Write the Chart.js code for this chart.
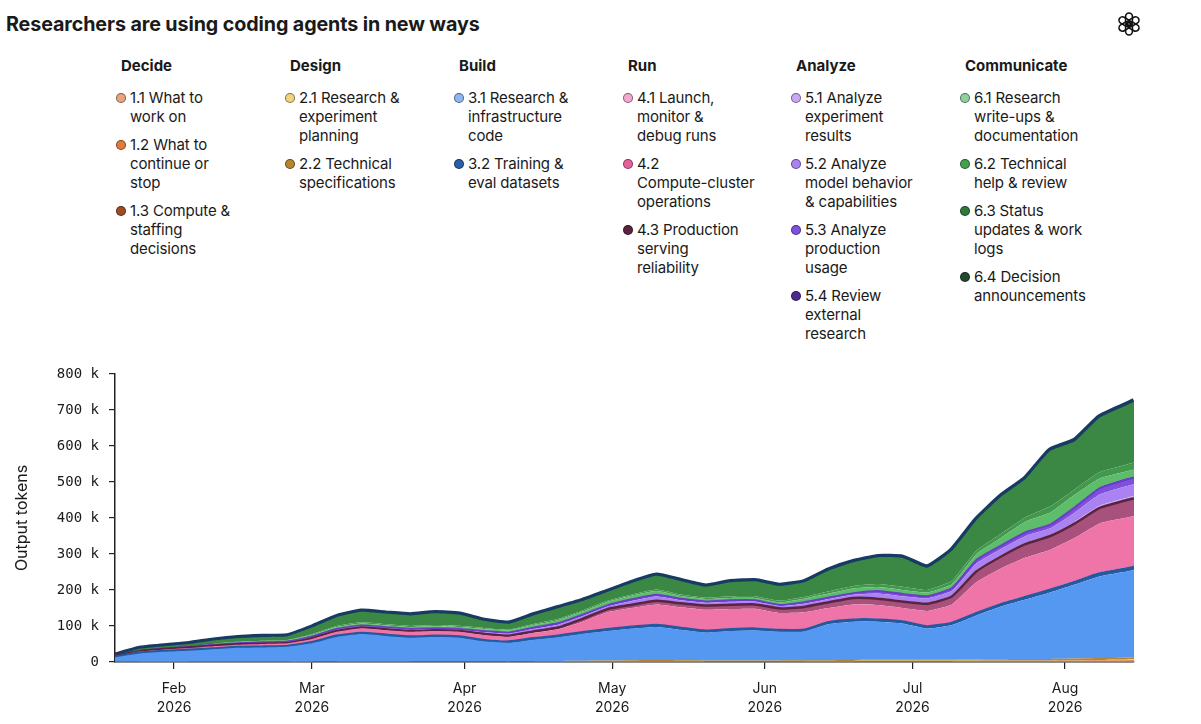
<!DOCTYPE html>
<html lang="en">

<head>
    <meta charset="UTF-8">
    <title>Researchers are using coding agents in new ways</title>
    <script src="https://cdn.jsdelivr.net/npm/chart.js"></script>
    <style>
        body { margin: 0; width: 1201px; height: 724px; overflow: hidden; background: #fff; font-family: "Inter", "Noto Sans", sans-serif; color: #1a1a1a; position: relative; }
        #title { position: absolute; left: 6px; top: 12px; font-size: 19.7px; line-height: 24px; font-weight: 700; letter-spacing: -0.1px; }
        #logo { position: absolute; left: 1116px; top: 11px; }
        .group { position: absolute; top: 56px; width: 165px; }
        .group h3 { margin: 0 0 12px 5px; font-size: 15px; line-height: 20px; font-weight: 700; }
        .item { position: relative; padding-left: 14px; font-size: 15px; line-height: 19px; margin-bottom: 9px; letter-spacing: -0.15px; }
        .dot { position: absolute; left: 0; top: 5px; width: 8px; height: 8px; border-radius: 50%; border: 1px solid rgba(0,0,0,0.45); }
        #chartBox { position: absolute; left: 0; top: 355px; width: 1201px; height: 369px; }
    </style>
</head>

<body>
    <div id="title">Researchers are using coding agents in new ways</div>
    <svg id="logo" width="26" height="26" viewBox="-13 -13 26 26">
        <g fill="none" stroke="#111" stroke-width="1.6">
            <rect x="-3.4" y="-11" width="6.8" height="12.5" rx="3.4" transform="rotate(0)" />
            <rect x="-3.4" y="-11" width="6.8" height="12.5" rx="3.4" transform="rotate(60)" />
            <rect x="-3.4" y="-11" width="6.8" height="12.5" rx="3.4" transform="rotate(120)" />
            <rect x="-3.4" y="-11" width="6.8" height="12.5" rx="3.4" transform="rotate(180)" />
            <rect x="-3.4" y="-11" width="6.8" height="12.5" rx="3.4" transform="rotate(240)" />
            <rect x="-3.4" y="-11" width="6.8" height="12.5" rx="3.4" transform="rotate(300)" />
        </g>
    </svg>
    <div id="legend"></div>
    <div id="chartBox"><canvas id="agentsChart"></canvas></div>
    <script>
        // days since 20 Jan 2026, one sample every 5 days
        const days = [0, 5, 10, 15, 20, 25, 30, 35, 40, 45, 50, 55, 60, 65, 70, 75, 80, 85, 90, 95, 100,
            105, 110, 115, 120, 125, 130, 135, 140, 145, 150, 155, 160, 165, 170, 175, 180, 185, 190, 195, 200, 205, 207];

        const monthTickDays = [12, 40, 71, 101, 132, 162, 193];
        const monthTickLabels = [['Feb', '2026'], ['Mar', '2026'], ['Apr', '2026'], ['May', '2026'],
            ['Jun', '2026'], ['Jul', '2026'], ['Aug', '2026']];

        const yTicks = [0, 100, 200, 300, 400, 500, 600, 700, 800];

        const groups = ['Decide', 'Design', 'Build', 'Run', 'Analyze', 'Communicate'];

        // output tokens, thousands
        const s11 = [0.1, 0.1, 0.1, 0.1, 0.1, 0.1, 0.1, 0.1, 0.2, 0.3, 0.3, 0.3, 0.3, 0.3, 0.3, 0.3, 0.2, 0.3, 0.3, 0.4, 0.4, 0.5, 0.6, 0.5, 0.5, 0.5, 0.5, 0.5, 0.5, 0.5, 0.6, 0.6, 0.6, 0.6, 0.7, 0.7, 0.8, 0.8, 0.9, 1, 1.1, 1.2, 1.3];
        const s12 = [0.1, 0.2, 0.3, 0.3, 0.3, 0.3, 0.3, 0.4, 0.5, 0.6, 0.8, 0.8, 0.7, 0.7, 0.7, 0.6, 0.6, 0.7, 0.8, 0.9, 1, 1.3, 1.4, 1.3, 1.1, 1.1, 1.1, 1.1, 1.2, 1.3, 1.4, 1.5, 1.5, 1.5, 1.6, 1.8, 1.9, 2, 2.1, 2.4, 2.8, 3, 3.3];
        const s13 = [0, 0.1, 0.1, 0.1, 0.1, 0.1, 0.1, 0.1, 0.2, 0.2, 0.2, 0.2, 0.2, 0.2, 0.2, 0.2, 0.2, 0.2, 0.2, 0.3, 0.3, 0.4, 0.4, 0.4, 0.4, 0.4, 0.4, 0.4, 0.4, 0.4, 0.4, 0.5, 0.5, 0.5, 0.5, 0.6, 0.6, 0.6, 0.7, 0.8, 0.9, 1, 1];
        const s21 = [0.1, 0.1, 0.1, 0.1, 0.1, 0.1, 0.1, 0.1, 0.2, 0.2, 0.3, 0.3, 0.3, 0.3, 0.3, 0.2, 0.2, 0.3, 0.3, 0.3, 0.4, 0.5, 0.5, 0.5, 0.4, 0.4, 0.4, 0.4, 0.5, 0.5, 0.5, 0.6, 0.6, 0.6, 0.6, 0.7, 0.7, 0.8, 0.8, 0.9, 1.1, 1.2, 1.3];
        const s22 = [0.2, 0.3, 0.4, 0.4, 0.6, 0.6, 0.7, 0.7, 0.9, 1.2, 1.4, 1.4, 1.3, 1.3, 1.1, 1.2, 1.2, 1.3, 1.4, 1.6, 1.9, 2.3, 2.6, 2.3, 2.1, 2.1, 2.1, 2.1, 2.2, 2.3, 2.6, 2.8, 2.8, 2.8, 3.1, 3.2, 3.5, 3.8, 4, 4.4, 5.1, 5.6, 6.1];
        const s31 = [12.5, 22.7, 27.5, 30.5, 34.3, 38.3, 39.2, 41.1, 50, 67, 74.5, 69.5, 64.7, 66.7, 64.9, 55, 51.1, 59.2, 66, 75, 82, 88, 92, 84.5, 77.5, 81.5, 83.5, 79.5, 80.2, 100.5, 106.5, 106, 101, 87, 96.5, 122.5, 146.5, 165.5, 184.5, 205.5, 226.5, 238, 242];
        const s32 = [1, 1.5, 1.5, 1.5, 1.5, 1.5, 1.5, 1.5, 2, 2.5, 2.5, 2.5, 2.5, 2.5, 2.5, 2.5, 2.5, 3, 3, 3.5, 4, 4, 4.5, 4.5, 4, 4, 4, 4, 4, 4.5, 5, 5, 5, 5, 5, 5.5, 6, 6.5, 7, 7, 7.5, 8, 8];
        const s41 = [0.5, 1, 1, 1, 1, 1, 1, 1, 1.5, 1.5, 1.5, 1.5, 1.5, 1.5, 1.5, 1.5, 1.5, 1.5, 1.5, 2, 2, 2, 2, 2, 2, 2, 2, 2, 2, 2.5, 2.5, 2.5, 2.5, 2.5, 2.5, 3, 3, 3, 3, 3.5, 3.5, 3.5, 3.5];
        const s42 = [1.5, 3, 4, 5, 6, 6, 7, 7, 8.5, 10.5, 12.5, 12.5, 12.5, 12.5, 12.5, 13.5, 12.5, 14.5, 17.5, 28, 46, 51, 56, 56, 57, 55, 54, 46, 47, 37.5, 40.5, 38.5, 35.5, 41.5, 49.5, 84, 97, 107, 109, 119.5, 136.5, 138.5, 138.5];
        const s43 = [0.5, 1, 1, 1, 1, 1, 1, 1, 2, 2, 2, 2, 2, 2, 2, 3, 3, 4, 5, 8, 9, 9, 10, 11, 12, 12, 12, 13, 15, 16, 18, 18, 18, 20, 22, 30, 33, 38, 38, 40, 43, 48, 50];
        const s51 = [0.1, 0.1, 0.1, 0.2, 0.3, 0.3, 0.4, 0.4, 0.5, 0.6, 0.6, 0.6, 0.6, 0.6, 0.6, 0.8, 0.9, 1.1, 1.2, 1.2, 1.1, 1.6, 1.8, 1.3, 1.2, 1.3, 1.2, 1, 1.4, 1.4, 1.4, 2.2, 2.2, 2.2, 2.4, 3.3, 3.2, 3.4, 3.3, 4.7, 5.7, 6, 6];
        const s52 = [0.3, 0.5, 0.5, 1.1, 1.6, 1.6, 2.2, 2.2, 2.7, 3.3, 3.3, 3.3, 3.3, 3.3, 3.3, 4.4, 5, 6, 6.6, 6.6, 6, 8.8, 9.9, 7.2, 6.6, 7.2, 6.6, 5.5, 7.7, 7.7, 7.7, 12.1, 12.1, 12.1, 13.2, 18.2, 17.6, 18.7, 18.2, 25.9, 31.4, 33, 33];
        const s53 = [0.1, 0.3, 0.3, 0.6, 0.9, 0.9, 1.2, 1.2, 1.5, 1.8, 1.8, 1.8, 1.8, 1.8, 1.8, 2.4, 2.7, 3.3, 3.6, 3.6, 3.3, 4.8, 5.4, 3.9, 3.6, 3.9, 3.6, 3, 4.2, 4.2, 4.2, 6.6, 6.6, 6.6, 7.2, 9.9, 9.6, 10.2, 9.9, 14.1, 17.1, 18, 18];
        const s54 = [0, 0.1, 0.1, 0.1, 0.2, 0.2, 0.2, 0.2, 0.3, 0.3, 0.3, 0.3, 0.3, 0.3, 0.3, 0.4, 0.4, 0.6, 0.6, 0.6, 0.6, 0.8, 0.9, 0.6, 0.6, 0.6, 0.6, 0.5, 0.7, 0.7, 0.7, 1.1, 1.1, 1.1, 1.2, 1.6, 1.6, 1.7, 1.6, 2.3, 2.8, 3, 3];
        const s61 = [0.5, 1, 2, 2, 3, 3, 3, 3, 4, 5, 5, 5, 5, 5, 5, 6, 6, 7, 8, 8, 9, 9, 9, 7, 6, 6, 6, 7, 9, 10, 12, 10, 10, 9, 10, 15, 20, 28, 32, 33, 25, 20, 20];
        const s62 = [0.1, 0.5, 0.5, 0.6, 0.9, 1.2, 1.2, 1.2, 2.1, 2.8, 3.3, 3.3, 3.3, 3.7, 3.5, 2.3, 1.9, 2.7, 3.4, 3, 2.8, 3.6, 4.3, 4.2, 3.5, 4.4, 4.7, 4.6, 4.6, 6.5, 7.4, 8.4, 9, 7, 9.4, 9.5, 11.5, 12, 17.3, 15, 17, 18.4, 19];
        const s63 = [0.3, 4.2, 4.2, 5.1, 7.7, 10.4, 10.4, 10.4, 18.4, 24.7, 29.1, 29.1, 29.1, 32.7, 30.9, 20.2, 16.6, 23.8, 30, 26.4, 24.6, 31.7, 38, 37.1, 30.8, 38.9, 41.6, 40.7, 40.7, 57.7, 65.8, 74.7, 80.1, 62.1, 83.6, 84.5, 102.3, 106.8, 154.2, 133.5, 151.3, 163.8, 169.1];
        const s64 = [0.1, 0.3, 0.3, 0.3, 0.4, 0.4, 0.4, 0.4, 0.5, 0.5, 0.6, 0.6, 0.6, 0.6, 0.6, 0.5, 0.5, 0.5, 0.6, 0.6, 0.6, 0.7, 0.7, 0.7, 0.7, 0.7, 0.7, 0.7, 0.7, 0.8, 0.8, 0.9, 0.9, 0.9, 1, 1, 1.2, 1.2, 1.5, 1.5, 1.7, 1.8, 1.9];

        // bottom of the stack first; \n marks the legend line breaks
        const series = [
            { group: 0, label: '1.1 What to\nwork on', color: '#e9a67d', data: s11 },
            { group: 0, label: '1.2 What to\ncontinue or\nstop', color: '#e37a3a', data: s12 },
            { group: 0, label: '1.3 Compute &\nstaffing\ndecisions', color: '#9e4c22', data: s13 },
            { group: 1, label: '2.1 Research &\nexperiment\nplanning', color: '#f3d27c', data: s21 },
            { group: 1, label: '2.2 Technical\nspecifications', color: '#b8852e', data: s22 },
            { group: 2, label: '3.1 Research &\ninfrastructure\ncode', color: '#5598f2', data: s31 },
            { group: 2, label: '3.2 Training &\neval datasets', color: '#2a5ea8', data: s32, line: '#24589f', width: 3 },
            { group: 3, label: '4.1 Launch,\nmonitor &\ndebug runs', color: '#f5a8cf', data: s41 },
            { group: 3, label: '4.2\nCompute-cluster\noperations', color: '#ef75a9', data: s42 },
            { group: 3, label: '4.3 Production\nserving\nreliability', color: '#a8517c', data: s43, line: '#5a2340', width: 2.5 },
            { group: 4, label: '5.1 Analyze\nexperiment\nresults', color: '#c8a7f5', data: s51 },
            { group: 4, label: '5.2 Analyze\nmodel behavior\n& capabilities', color: '#ab82f2', data: s52 },
            { group: 4, label: '5.3 Analyze\nproduction\nusage', color: '#7f50dc', data: s53, line: '#6a3fc8', width: 2 },
            { group: 4, label: '5.4 Review\nexternal\nresearch', color: '#4b2c8c', data: s54 },
            { group: 5, label: '6.1 Research\nwrite-ups &\ndocumentation', color: '#5dbd6b', data: s61 },
            { group: 5, label: '6.2 Technical\nhelp & review', color: '#43984e', data: s62 },
            { group: 5, label: '6.3 Status\nupdates & work\nlogs', color: '#3b8744', data: s63 },
            { group: 5, label: '6.4 Decision\nannouncements', color: '#1f4a2e', data: s64, line: '#183b63', width: 6 }
        ];

        const legendColumnsLeft = [116, 285, 454, 623, 791, 960];
        const legendDots = {
            0: ['#e9a67d', '#e37a3a', '#9e4c22'],
            1: ['#f3d27c', '#b8852e'],
            2: ['#8db6f2', '#2a5ea8'],
            3: ['#f5a8cf', '#e8609a', '#5a2340'],
            4: ['#c8a7f5', '#ab82f2', '#7f50dc', '#4b2c8c'],
            5: ['#8fd09c', '#43a050', '#2e7a3a', '#1f4a2e']
        };

        function buildLegend() {
            const legend = document.getElementById('legend');
            groups.forEach((name, g) => {
                const col = document.createElement('div');
                col.className = 'group';
                col.style.left = legendColumnsLeft[g] + 'px';
                col.innerHTML = '<h3>' + name + '</h3>';
                series.filter(s => s.group === g).forEach((s, i) => {
                    const item = document.createElement('div');
                    item.className = 'item';
                    const dot = document.createElement('span');
                    dot.className = 'dot';
                    dot.style.background = legendDots[g][i];
                    item.appendChild(dot);
                    s.label.split('\n').forEach((line, k) => {
                        if (k > 0) item.appendChild(document.createElement('br'));
                        item.appendChild(document.createTextNode(line));
                    });
                    col.appendChild(item);
                });
                legend.appendChild(col);
            });
        }

        function renderChart() {
            const ctx = document.getElementById('agentsChart').getContext('2d');
            new Chart(ctx, {
                type: 'line',
                data: {
                    datasets: series.map((s, i) => ({
                        label: s.label.replace(/\n/g, ' '),
                        data: s.data.map((v, k) => ({ x: days[k], y: v })),
                        backgroundColor: s.color,
                        borderColor: s.line || s.color,
                        borderWidth: s.width || 0,
                        borderJoinStyle: 'round',
                        fill: i === 0 ? 'origin' : '-1',
                        pointRadius: 0,
                        tension: 0.15
                    }))
                },
                options: {
                    responsive: true,
                    maintainAspectRatio: false,
                    animation: false,
                    layout: { padding: { top: 19, right: 67, left: 0, bottom: 0 } },
                    plugins: {
                        legend: { display: false },
                        tooltip: { enabled: false }
                    },
                    scales: {
                        x: {
                            type: 'linear',
                            min: 0,
                            max: 207,
                            afterBuildTicks: axis => { axis.ticks = monthTickDays.map(v => ({ value: v })); },
                            afterFit: axis => { axis.height = 62; },
                            ticks: {
                                autoSkip: false,
                                maxRotation: 0,
                                padding: 11,
                                color: '#1a1a1a',
                                font: { family: 'Inter', size: 14, lineHeight: 1.3 },
                                callback: v => monthTickLabels[monthTickDays.indexOf(v)]
                            },
                            grid: { drawOnChartArea: false, drawTicks: true, tickLength: 7, color: '#222', lineWidth: 1.2 },
                            border: { display: true, color: '#222', width: 1.5 }
                        },
                        y: {
                            stacked: true,
                            min: 0,
                            max: 800,
                            afterBuildTicks: axis => { axis.ticks = yTicks.map(v => ({ value: v })); },
                            afterFit: axis => { axis.width = 115; },
                            ticks: {
                                padding: 10,
                                color: '#1a1a1a',
                                font: { family: 'DejaVu Sans Mono', size: 14 },
                                callback: v => v === 0 ? '0' : v + ' k'
                            },
                            grid: { drawOnChartArea: false, drawTicks: true, tickLength: 6, color: '#222', lineWidth: 1.2 },
                            border: { display: true, color: '#222', width: 1.5 },
                            title: {
                                display: true,
                                text: 'Output tokens',
                                color: '#1a1a1a',
                                font: { family: 'Inter', size: 16 },
                                padding: { top: 13, bottom: 0 }
                            }
                        }
                    }
                }
            });
        }

        document.addEventListener('DOMContentLoaded', () => {
            buildLegend();
            renderChart();
        });
    </script>
</body>

</html>
